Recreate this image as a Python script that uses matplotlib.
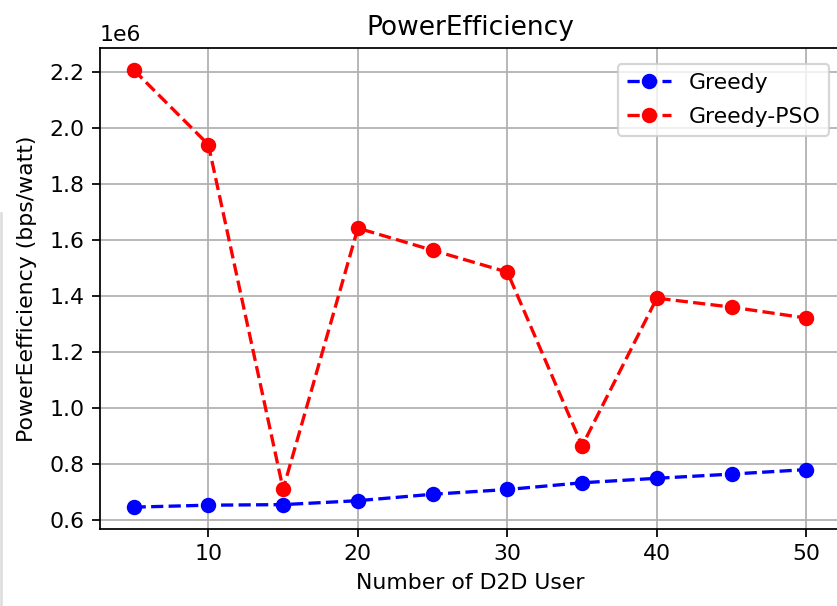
import matplotlib
matplotlib.use("Agg")
import matplotlib.pyplot as plt
from matplotlib.lines import Line2D

users = [5, 10, 15, 20, 25, 30, 35, 40, 45, 50]
greedy = [0.646e6, 0.653e6, 0.655e6, 0.669e6, 0.692e6, 0.709e6, 0.733e6, 0.749e6, 0.764e6, 0.780e6]
greedy_pso = [2.207e6, 1.940e6, 0.710e6, 1.642e6, 1.563e6, 1.485e6, 0.865e6, 1.392e6, 1.360e6, 1.321e6]

W, H = 838, 606
DPI = 158.4
fig = plt.figure(figsize=(W / DPI, H / DPI), dpi=DPI)

# axes box in pixels (left, top, right, bottom)
l, t, r, b = 100, 48, 840, 529
ax = fig.add_axes([l / W, 1 - b / H, (r - l) / W, (b - t) / H])

ax.plot(users, greedy, "bo--", label="Greedy")
ax.plot(users, greedy_pso, "ro--", label="Greedy-PSO")

ax.set_title("PowerEfficiency")
ax.set_xlabel("Number of D2D User")
ax.set_ylabel("PowerEefficiency (bps/watt)", labelpad=5.5)
ax.grid(True)
ax.legend(labelspacing=0.65, bbox_to_anchor=(1, 0.99), loc="upper right")

# faint screenshot edge on the left
fig.add_artist(Line2D([1 / W, 1 / W], [0, 1 - 213 / H], color="#dddddd", lw=1.2))

fig.savefig("out.png", dpi=DPI)
